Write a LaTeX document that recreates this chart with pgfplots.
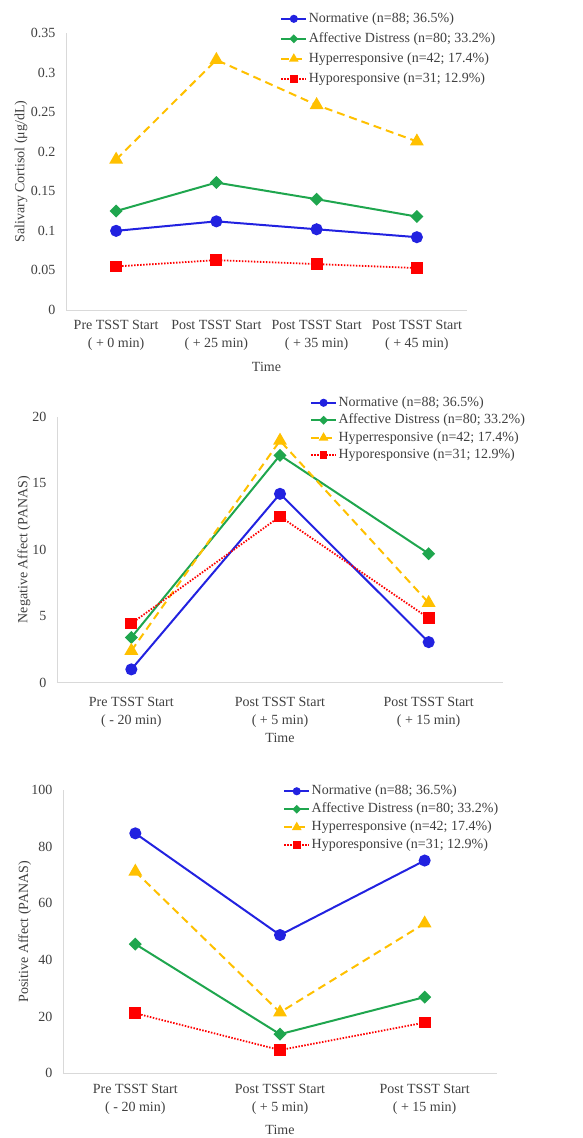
\documentclass[border=0pt]{standalone}
\usepackage{fontspec}
\setmainfont{Liberation Serif}
\usepackage{pgfplots}
\pgfplotsset{compat=1.18}

\definecolor{cBlue}{HTML}{2222E0}
\definecolor{cGreen}{HTML}{1FA64E}
\definecolor{cGold}{HTML}{FFC000}
\definecolor{cRed}{HTML}{FF0000}
\definecolor{cAxis}{HTML}{D9D9D9}
\definecolor{cText}{HTML}{404040}

\pgfplotsset{
  panel/.style={
    scale only axis,
    axis x line*=bottom,
    axis y line*=left,
    axis line style={draw=cAxis, line width=0.8pt},
    major tick length=0pt,
    xtick=data,
    xmin=-0.5,
    tick label style={font=\fontsize{14}{18}\selectfont, text=cText},
    yticklabel style={xshift=-7pt},
    every axis y label/.style={rotate=90, anchor=center, font=\fontsize{14}{16}\selectfont, text=cText},
    every axis x label/.style={anchor=center, font=\fontsize{14}{16}\selectfont, text=cText},
    /pgf/number format/assume math mode=true,
    legend cell align=left,
    legend style={draw=none, fill=none, inner sep=0pt, column sep=0pt,
      anchor=north west, font=\fontsize{14}{16}\selectfont, text=cText,
      nodes={inner xsep=1.5pt, text height=10.5pt, text depth=3.5pt}},
    legend image code/.code={
      \draw[#1, every mark/.append style={scale=0.6}, mark repeat=2, mark phase=2]
        plot coordinates {(0pt,0pt) (12.5pt,0pt) (25pt,0pt)};
    },
  },
  sNorm/.style={cBlue, line width=2pt, mark=*, mark size=5pt, mark options={solid, fill=cBlue, draw=cBlue}},
  sAff/.style={cGreen, line width=2pt, mark=square*, mark size=3.6pt, mark options={solid, rotate=45, fill=cGreen, draw=cGreen}},
  sHyper/.style={cGold, line width=2pt, dash pattern=on 8pt off 5pt, mark=triangle*, mark size=6pt, mark options={solid, fill=cGold, draw=cGold}},
  sHypo/.style={cRed, line width=1.8pt, dash pattern=on 1.5pt off 1.5pt, mark=square*, mark size=5pt, mark options={solid, fill=cRed, draw=cRed}},
}

\begin{document}
\begin{tikzpicture}[x=1pt, y=1pt]
\path[use as bounding box] (0,0) rectangle (582,1138);

% Salivary cortisol
\begin{axis}[panel,
  at={(66pt,828pt)}, anchor=south west,
  width=401pt, height=277pt,
  xmax=3.5, ymin=0, ymax=0.35,
  ytick={0,0.05,0.1,0.15,0.2,0.25,0.3,0.35},
  yticklabels={0,0.05,0.1,0.15,0.2,0.25,0.3,0.35},
  xticklabels={{Pre TSST Start\\( + 0 min)},{Post TSST Start\\( + 25 min)},{Post TSST Start\\( + 35 min)},{Post TSST Start\\( + 45 min)}},
  xticklabel style={align=center, yshift=-7pt},
  xlabel={Time}, ylabel={Salivary Cortisol (μg/dL)},
  x label style={at={(axis description cs:0.5,-0.206)}},
  y label style={at={(axis description cs:-0.112,0.5)}},
  legend style={at={(axis description cs:0.534,1.088)}, nodes={inner ysep=3pt}},
]
\addplot[sNorm] coordinates {(0,0.100) (1,0.112) (2,0.102) (3,0.092)};
\addlegendentry{Normative (n=88; 36.5\%)}
\addplot[sAff] coordinates {(0,0.125) (1,0.161) (2,0.140) (3,0.118)};
\addlegendentry{Affective Distress (n=80; 33.2\%)}
\addplot[sHyper] coordinates {(0,0.190) (1,0.316) (2,0.259) (3,0.213)};
\addlegendentry{Hyperresponsive (n=42; 17.4\%)}
\addplot[sHypo] coordinates {(0,0.055) (1,0.063) (2,0.058) (3,0.053)};
\addlegendentry{Hyporesponsive (n=31; 12.9\%)}
\end{axis}

% Negative affect
\begin{axis}[panel,
  at={(57pt,455.3pt)}, anchor=south west,
  width=446pt, height=266pt,
  xmax=2.5, ymin=0, ymax=20,
  ytick={0,5,10,15,20},
  xticklabels={{Pre TSST Start\\( - 20 min)},{Post TSST Start\\( + 5 min)},{Post TSST Start\\( + 15 min)}},
  xticklabel style={align=center, yshift=-11pt},
  xlabel={Time}, ylabel={Negative Affect (PANAS)},
  x label style={at={(axis description cs:0.5,-0.208)}},
  y label style={at={(axis description cs:-0.074,0.5)}},
  legend style={at={(axis description cs:0.567,1.086)}, nodes={inner ysep=1.75pt}},
]
\addplot[sNorm] coordinates {(0,1.0) (1,14.2) (2,3.05)};
\addlegendentry{Normative (n=88; 36.5\%)}
\addplot[sAff] coordinates {(0,3.4) (1,17.1) (2,9.7)};
\addlegendentry{Affective Distress (n=80; 33.2\%)}
\addplot[sHyper] coordinates {(0,2.4) (1,18.2) (2,6.0)};
\addlegendentry{Hyperresponsive (n=42; 17.4\%)}
\addplot[sHypo] coordinates {(0,4.45) (1,12.5) (2,4.85)};
\addlegendentry{Hyporesponsive (n=31; 12.9\%)}
\end{axis}

% Positive affect
\begin{axis}[panel,
  at={(63pt,64.7pt)}, anchor=south west,
  width=434pt, height=283.3pt,
  xmax=2.5, ymin=0, ymax=100,
  ytick={0,20,40,60,80,100},
  xticklabels={{Pre TSST Start\\( - 20 min)},{Post TSST Start\\( + 5 min)},{Post TSST Start\\( + 15 min)}},
  xticklabel style={align=center, yshift=-7pt},
  xlabel={Time}, ylabel={Positive Affect (PANAS)},
  x label style={at={(axis description cs:0.5,-0.2)}},
  y label style={at={(axis description cs:-0.088,0.5)}},
  legend style={at={(axis description cs:0.507,1.028)}, nodes={inner ysep=2pt}},
]
\addplot[sNorm] coordinates {(0,84.7) (1,48.8) (2,75.1)};
\addlegendentry{Normative (n=88; 36.5\%)}
\addplot[sAff] coordinates {(0,45.6) (1,13.8) (2,26.9)};
\addlegendentry{Affective Distress (n=80; 33.2\%)}
\addplot[sHyper] coordinates {(0,71.2) (1,21.5) (2,52.9)};
\addlegendentry{Hyperresponsive (n=42; 17.4\%)}
\addplot[sHypo] coordinates {(0,21.2) (1,8.2) (2,17.9)};
\addlegendentry{Hyporesponsive (n=31; 12.9\%)}
\end{axis}
\end{tikzpicture}
\end{document}
